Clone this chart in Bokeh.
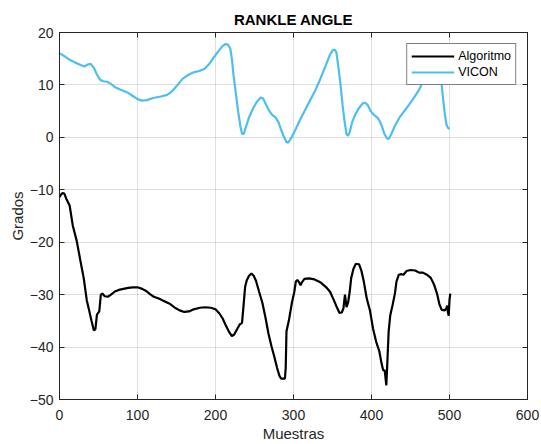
from bokeh.plotting import figure
from bokeh.models import LinearAxis, FixedTicker, Range1d, Legend, LegendItem
from bokeh.embed import file_html
from bokeh.resources import INLINE

# ---- data ----
algoritmo_x = [0, 2, 4, 6, 9, 13, 17, 22, 26, 28, 31, 35, 38, 41, 44, 46, 48, 51, 53, 55, 58, 62, 66, 71,
               76, 82, 88, 94, 100, 106, 111, 116, 121, 128, 135, 142, 148, 154, 160, 166, 172, 180, 187,
               194, 200, 205, 209, 213, 217, 221, 224, 228, 231, 234, 236, 238, 240, 243, 246, 249, 252,
               256, 260, 264, 268, 272, 275, 279, 282, 284, 289, 290, 291, 294, 298, 301, 303, 305, 307,
               309, 311, 314, 320, 327, 335, 342, 347, 351, 355, 359, 362, 364, 366, 368, 370, 372, 374,
               377, 380, 384, 387, 390, 394, 398, 402, 406, 410, 413, 415, 417, 419, 420, 422, 424, 427,
               430, 432, 435, 438, 441, 445, 450, 456, 461, 466, 471, 476, 480, 484, 487, 490, 494, 496,
               497, 498, 499, 500, 501]
algoritmo_y = [-11.4, -10.9, -10.6, -10.7, -11.8, -13.0, -16.8, -19.7, -22.9, -24.5, -26.8, -31.1, -33.0,
               -35.0, -36.8, -36.6, -33.8, -33.2, -30.0, -29.8, -30.3, -30.4, -30.0, -29.4, -29.1, -28.9,
               -28.7, -28.6, -28.6, -28.9, -29.3, -29.9, -30.4, -30.8, -31.3, -31.8, -32.5, -33.0, -33.3,
               -33.2, -32.8, -32.5, -32.4, -32.5, -32.8, -33.6, -34.5, -35.8, -37.0, -37.9, -37.6, -36.5,
               -35.7, -35.4, -32.0, -28.5, -27.3, -26.4, -26.0, -26.4, -27.4, -29.5, -31.5, -34.3, -37.5,
               -40.0, -41.6, -44.0, -45.5, -46.0, -46.0, -44.0, -37.0, -35.0, -31.5, -29.5, -27.5, -27.2,
               -27.6, -28.2, -27.6, -27.0, -26.9, -27.1, -27.7, -28.6, -29.5, -30.8, -32.2, -33.5, -33.4,
               -32.6, -30.0, -32.4, -31.5, -29.5, -26.8, -25.0, -24.1, -24.2, -25.4, -27.4, -30.8, -33.0,
               -36.5, -39.0, -40.8, -43.2, -44.4, -44.5, -47.3, -44.0, -37.0, -34.0, -32.0, -29.8, -27.5,
               -26.2, -26.1, -26.2, -25.5, -25.3, -25.4, -25.8, -25.8, -26.2, -26.8, -28.0, -29.8, -31.8,
               -32.9, -33.0, -32.6, -32.1, -33.4, -34.0, -31.0, -29.8]

vicon_x = [0, 3, 8, 13, 20, 27, 32, 36, 40, 44, 48, 52, 56, 61, 66, 72, 80, 88, 95, 100, 106, 112, 120,
           130, 138, 143, 148, 153, 158, 165, 172, 180, 186, 192, 198, 204, 209, 213, 216, 219, 221, 223,
           226, 229, 232, 234, 236, 239, 243, 248, 253, 258, 261, 264, 268, 272, 277, 281, 284, 288, 291,
           293, 296, 301, 308, 314, 321, 328, 334, 341, 346, 350, 353, 355, 357, 360, 363, 366, 368, 370,
           372, 375, 379, 384, 389, 392, 395, 399, 403, 408, 411, 414, 417, 420, 422, 425, 430, 436, 442,
           448, 454, 460, 465, 470, 474, 478, 481, 484, 486, 488, 490, 492, 494, 496, 498, 500]
vicon_y = [16.0, 15.8, 15.3, 14.8, 14.3, 13.8, 13.5, 13.9, 14.0, 13.3, 12.0, 11.0, 10.7, 10.6, 10.2, 9.5,
           9.0, 8.5, 7.8, 7.3, 7.0, 7.1, 7.5, 7.8, 8.1, 8.6, 9.4, 10.3, 11.2, 11.9, 12.4, 12.7, 13.1, 14.0,
           15.3, 16.5, 17.4, 17.8, 17.7, 16.9, 15.0, 12.0, 8.5, 5.0, 2.0, 0.7, 0.6, 2.0, 3.8, 5.5, 6.8, 7.6,
           7.4, 6.5, 5.3, 4.4, 3.8, 2.8, 1.5, 0.0, -0.9, -1.0, -0.4, 1.0, 3.2, 5.0, 7.0, 9.0, 11.0, 13.6,
           15.5, 16.6, 16.7, 16.2, 14.0, 10.5, 6.0, 2.5, 0.6, 0.3, 1.0, 2.8, 4.3, 5.6, 6.5, 6.6, 6.2, 5.0,
           4.3, 3.7, 3.0, 1.8, 0.5, -0.2, -0.3, 0.5, 2.2, 3.8, 5.0, 6.2, 7.5, 8.8, 10.3, 12.0, 14.0, 15.8,
           16.6, 16.5, 15.0, 12.5, 10.0, 7.0, 4.5, 2.5, 1.8, 1.6]

x_ticks = [0, 100, 200, 300, 400, 500, 600]
y_ticks = [-50, -40, -30, -20, -10, 0, 10, 20]

title_text = "RANKLE ANGLE"
x_label = "Muestras"
y_label = "Grados"
series_names = ["Algoritmo", "VICON"]

FONT = "Liberation Sans"
AX = "#262626"

p = figure(width=541, height=444, x_range=Range1d(0, 600), y_range=Range1d(-50, 20),
           output_backend="svg", toolbar_location=None, title=title_text,
           min_border_left=59, min_border_right=14, min_border_top=32, min_border_bottom=45,
           background_fill_color="white", border_fill_color="white")

p.title.align = "center"
p.title.text_font = FONT
p.title.text_font_size = "15px"
p.title.text_font_style = "bold"
p.title.text_color = "black"

r1 = p.line(algoritmo_x, algoritmo_y, line_color="black", line_width=2.2)
r2 = p.line(vicon_x, vicon_y, line_color="#4DBEEE", line_width=2.2)

for ax in (p.xaxis[0], p.yaxis[0]):
    ax.axis_line_color = AX
    ax.major_tick_line_color = AX
    ax.major_tick_in = 5
    ax.major_tick_out = 0
    ax.minor_tick_line_color = None
    ax.major_label_text_font = FONT
    ax.major_label_text_font_size = "14px"
    ax.major_label_text_color = AX
    ax.axis_label_text_font = FONT
    ax.axis_label_text_font_size = "15px"
    ax.axis_label_text_font_style = "normal"
    ax.axis_label_text_color = AX

p.xaxis[0].ticker = FixedTicker(ticks=x_ticks)
p.yaxis[0].ticker = FixedTicker(ticks=y_ticks)
p.xaxis[0].axis_label = x_label
p.yaxis[0].axis_label = y_label
p.xaxis[0].major_label_standoff = 10
p.xaxis[0].axis_label_standoff = 2
p.yaxis[0].major_label_standoff = 6
p.yaxis[0].axis_label_standoff = 1

# box ticks on top and right (no labels)
for side, tk in (("above", x_ticks), ("right", y_ticks)):
    a = LinearAxis(ticker=FixedTicker(ticks=tk))
    a.axis_line_color = AX
    a.major_tick_line_color = AX
    a.major_tick_in = 5
    a.major_tick_out = 0
    a.minor_tick_line_color = None
    a.major_label_text_color = None
    a.major_label_text_alpha = 0
    a.major_label_text_font_size = "1px"
    a.major_label_standoff = 0
    p.add_layout(a, side)

p.xgrid.ticker = FixedTicker(ticks=x_ticks)
p.ygrid.ticker = FixedTicker(ticks=y_ticks)
p.grid.grid_line_color = AX
p.grid.grid_line_alpha = 0.15
p.grid.grid_line_width = 1
p.outline_line_color = AX

legend = Legend(items=[LegendItem(label=series_names[0], renderers=[r1]),
                       LegendItem(label=series_names[1], renderers=[r2])],
                location="top_right", margin=11, padding=4, spacing=0,
                glyph_width=43, glyph_height=16, label_height=16, label_standoff=4,
                label_text_font=FONT, label_text_font_size="12.5px", label_text_color="black",
                border_line_color="black", border_line_width=1, background_fill_color="white",
                background_fill_alpha=1)
p.add_layout(legend, "center")

open("out.html", "w").write(file_html(p, INLINE))
